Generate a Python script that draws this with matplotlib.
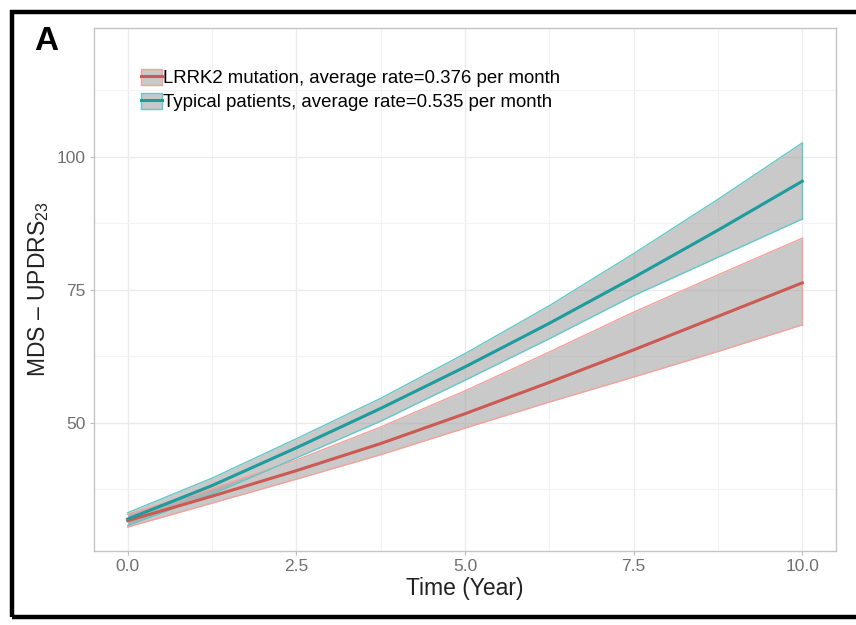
import matplotlib
matplotlib.use('Agg')
import numpy as np
from matplotlib import pyplot as plt
from matplotlib.patches import Patch, Rectangle
from matplotlib.lines import Line2D

plt.rcParams['font.family'] = ['Liberation Sans', 'DejaVu Sans']
plt.rcParams['mathtext.fontset'] = 'custom'
plt.rcParams['mathtext.rm'] = 'Liberation Sans'
plt.rcParams['mathtext.default'] = 'regular'

# values
years = [0, 1.25, 2.5, 3.75, 5, 6.25, 7.5, 8.75, 10]

lrrk2_mid = [31.6, 36.2, 41.0, 46.1, 51.7, 57.6, 63.7, 70.0, 76.3]
lrrk2_lo = [30.4, 34.9, 39.4, 44.0, 49.0, 53.9, 58.6, 63.4, 68.4]
lrrk2_hi = [32.8, 37.6, 43.0, 49.2, 56.0, 63.3, 70.8, 77.8, 84.7]

typ_mid = [31.9, 38.2, 45.3, 52.7, 60.5, 68.7, 77.3, 86.2, 95.4]
typ_lo = [30.7, 36.6, 43.4, 50.3, 58.0, 65.8, 73.9, 81.1, 88.3]
typ_hi = [33.1, 39.6, 47.0, 54.6, 63.0, 72.0, 81.8, 92.0, 102.6]

labels = ['LRRK2 mutation, average rate=0.376 per month',
          'Typical patients, average rate=0.535 per month']

xticks = [0, 2.5, 5, 7.5, 10]
xticklabels = ['0.0', '2.5', '5.0', '7.5', '10.0']
yticks = [50, 75, 100]
yticklabels = ['50', '75', '100']


def main():
    fig = plt.figure(figsize=(8.56, 6.25), dpi=100)
    ax = fig.add_axes([94 / 856, 74 / 625, 742 / 856, 523 / 625])

    series = [
        (lrrk2_lo, lrrk2_mid, lrrk2_hi, '#f5a19b', '#cc5a52'),
        (typ_lo, typ_mid, typ_hi, '#62c9cb', '#1c9c9e'),
    ]
    handles = []
    for lo, mid, hi, edge, line in series:
        ax.fill_between(years, lo, hi, color='#999999', alpha=0.52,
                        linewidth=0, zorder=2)
        ax.plot(years, lo, color=edge, lw=1.0, zorder=3)
        ax.plot(years, hi, color=edge, lw=1.0, zorder=3)
        ax.plot([years[-1], years[-1]], [lo[-1], hi[-1]], color=edge,
                lw=1.0, zorder=3)
        ax.plot(years, mid, color=line, lw=2.2, zorder=4)
        handles.append((Patch(facecolor='#c9c9c9', edgecolor=edge, lw=1.0),
                        Line2D([], [], color=line, lw=2.2)))

    ax.set_xlim(-0.5, 10.5)
    ax.set_ylim(25.9, 124.2)
    ax.set_xticks(xticks)
    ax.set_xticklabels(xticklabels)
    ax.set_yticks(yticks)
    ax.set_yticklabels(yticklabels)
    ax.set_xticks([1.25, 3.75, 6.25, 8.75], minor=True)
    ax.set_yticks([37.5, 62.5, 87.5, 112.5], minor=True)
    ax.grid(which='major', color='#ebebeb', lw=1.0, zorder=0)
    ax.grid(which='minor', color='#f3f3f3', lw=0.8, zorder=0)
    ax.set_axisbelow(True)
    ax.tick_params(which='major', length=3, width=0.8, color='#bbbbbb',
                   labelsize=12.5, labelcolor='#707070', pad=3)
    ax.tick_params(which='minor', length=0)
    for s in ax.spines.values():
        s.set_color('#c4c4c4')
        s.set_linewidth(1.0)

    ax.set_xlabel('Time (Year)', fontsize=16.5, color='#222222', labelpad=2)
    ax.set_ylabel('MDS \u2013 UPDRS$_{23}$', fontsize=16.5, color='#222222',
                  labelpad=4)

    ax.legend(handles, labels, loc='upper left',
              bbox_to_anchor=(0.064, 0.922), frameon=False, fontsize=13.4,
              handlelength=1.1, handleheight=1.0, handletextpad=0.05,
              labelspacing=0.28, borderpad=0, borderaxespad=0)

    fig.text(34 / 856, 1 - 42 / 625, 'A', fontsize=24, fontweight='bold',
             va='center', ha='left')

    fig.patches.append(Rectangle((12 / 856, 8 / 625), 1.0, 1 - 20 / 625,
                                 transform=fig.transFigure, fill=False,
                                 edgecolor='black', lw=3.2, zorder=10))

    fig.savefig('out.png', dpi=100)


if __name__ == '__main__':
    main()
